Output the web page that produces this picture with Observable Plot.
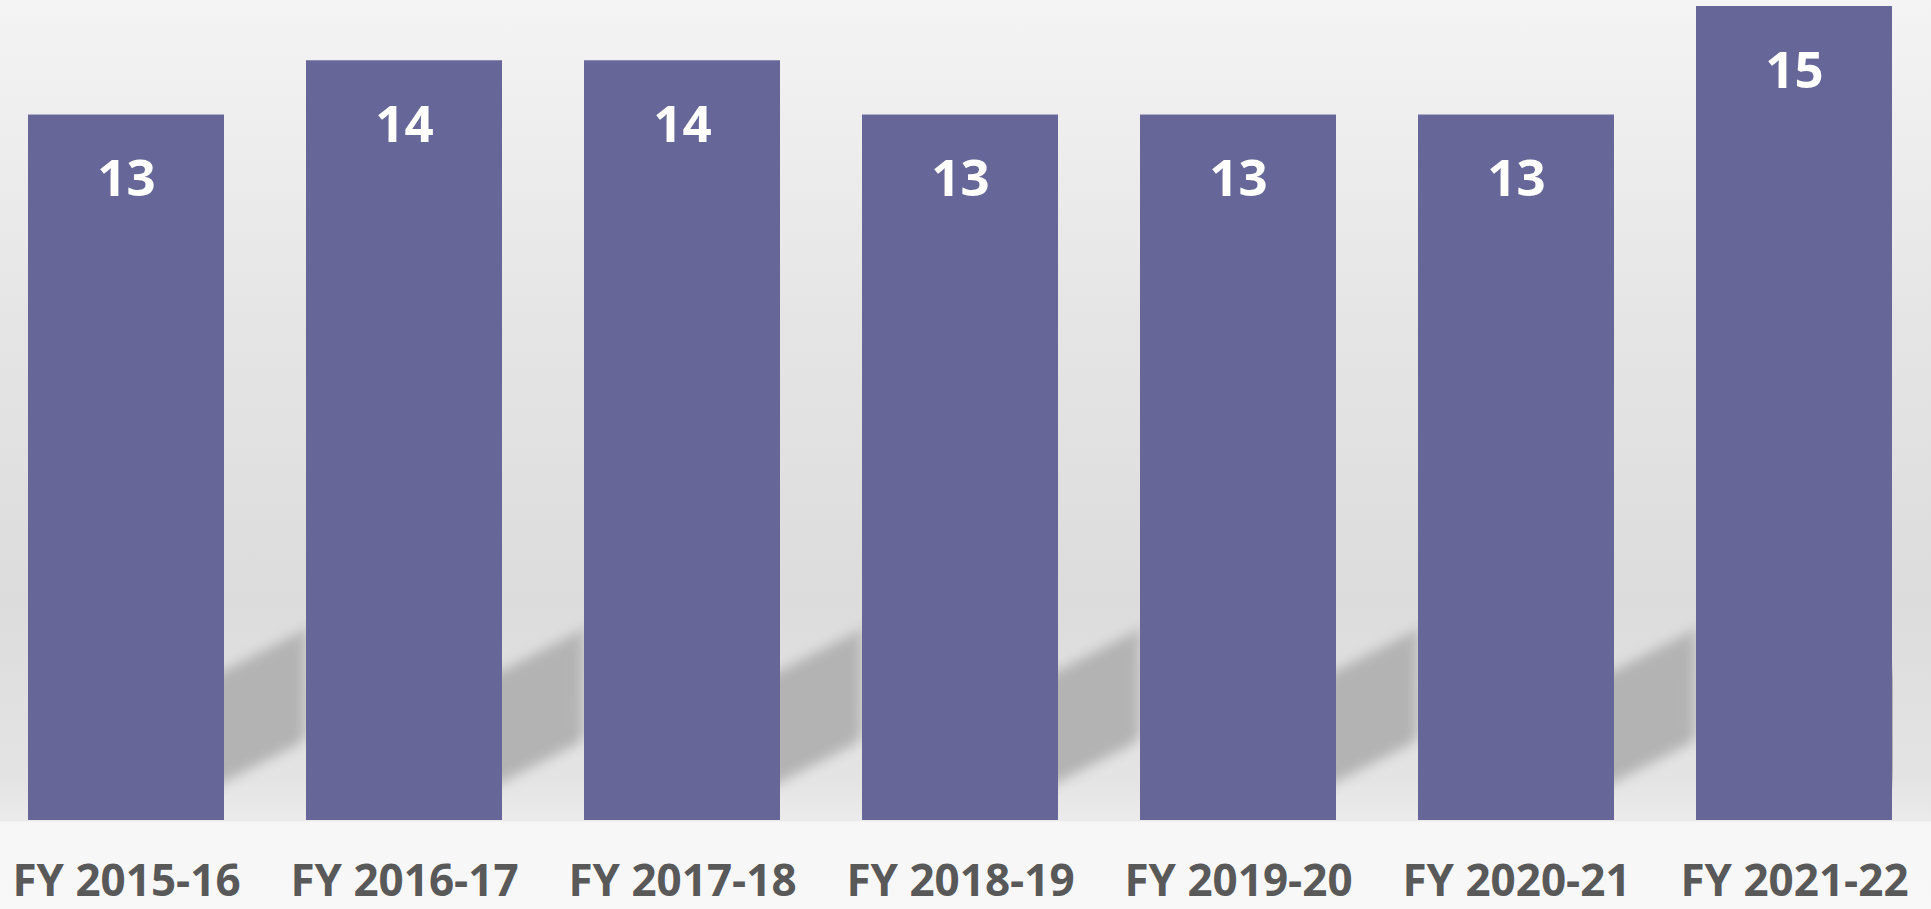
<!DOCTYPE html>
<html>
<head>
<meta charset="utf-8">
<script src="https://cdn.jsdelivr.net/npm/d3@7"></script>
<script src="https://cdn.jsdelivr.net/npm/@observablehq/plot@0.6"></script>
<style>
  html, body { margin: 0; padding: 0; }
  body {
    width: 1931px; height: 909px; overflow: hidden;
    background: linear-gradient(to bottom, #f4f4f4 0px, #e6e6e6 300px, #dcdcdc 600px, #e4e4e4 780px, #ebebeb 821px, #f7f7f7 822px, #f8f8f8 909px);
  }
  #chart svg { display: block; }
</style>
</head>
<body>
<div id="chart"></div>
<script>
const categories = ["FY 2015-16", "FY 2016-17", "FY 2017-18", "FY 2018-19", "FY 2019-20", "FY 2020-21", "FY 2021-22"];
const values = [13, 14, 14, 13, 13, 13, 15];

const data = categories.map((c, i) => ({cat: c, value: values[i]}));

const barColor = "#666699";
const shadowLow = 0.7, shadowHigh = 2.75;

const svg = Plot.plot({
  width: 1931,
  height: 909,
  marginLeft: 28,
  marginRight: 38,
  marginTop: 6,
  marginBottom: 89,
  style: {background: "transparent", fontFamily: "'Open Sans', sans-serif"},
  x: {domain: categories, paddingInner: 0.294, paddingOuter: 0, label: null},
  y: {domain: [0, 15], axis: null},
  marks: [
    Plot.barY(data, {x: "cat", y1: shadowLow, y2: shadowHigh, fill: "#b3b3b3", clip: true}),
    Plot.barY(data, {x: "cat", y: "value", fill: barColor}),
    Plot.text(data, {x: "cat", y: "value", text: d => String(d.value), dy: 65, fill: "white",
      fontSize: 51, fontWeight: "bold", lineAnchor: "middle", textAnchor: "middle"}),
    Plot.axisX({tickSize: 0, tickPadding: 44, fontSize: 44, fontWeight: "bold", fill: "#595959", label: null})
  ]
});

// soft cast shadow behind each bar (first bar layer)
const ns = "http://www.w3.org/2000/svg";
const defs = document.createElementNS(ns, "defs");
const filter = document.createElementNS(ns, "filter");
filter.setAttribute("id", "shadowBlur");
filter.setAttribute("x", "-50%"); filter.setAttribute("y", "-50%");
filter.setAttribute("width", "200%"); filter.setAttribute("height", "200%");
const blur = document.createElementNS(ns, "feGaussianBlur");
blur.setAttribute("stdDeviation", "7");
filter.appendChild(blur);
defs.appendChild(filter);
svg.insertBefore(defs, svg.firstChild);

const rectGroups = Array.from(svg.querySelectorAll("g")).filter(g => g.querySelector(":scope > rect"));
const sg = rectGroups[0];
if (sg) {
  sg.querySelectorAll(":scope > rect").forEach(r => {
    const L = +r.getAttribute("x"), W = +r.getAttribute("width");
    const R = L + W;
    r.setAttribute("transform", `translate(${R},0) skewY(-27) translate(${-R},0) translate(${W * 0.42},0)`);
    r.setAttribute("filter", "url(#shadowBlur)");
  });
}

document.getElementById("chart").appendChild(svg);
</script>
</body>
</html>
